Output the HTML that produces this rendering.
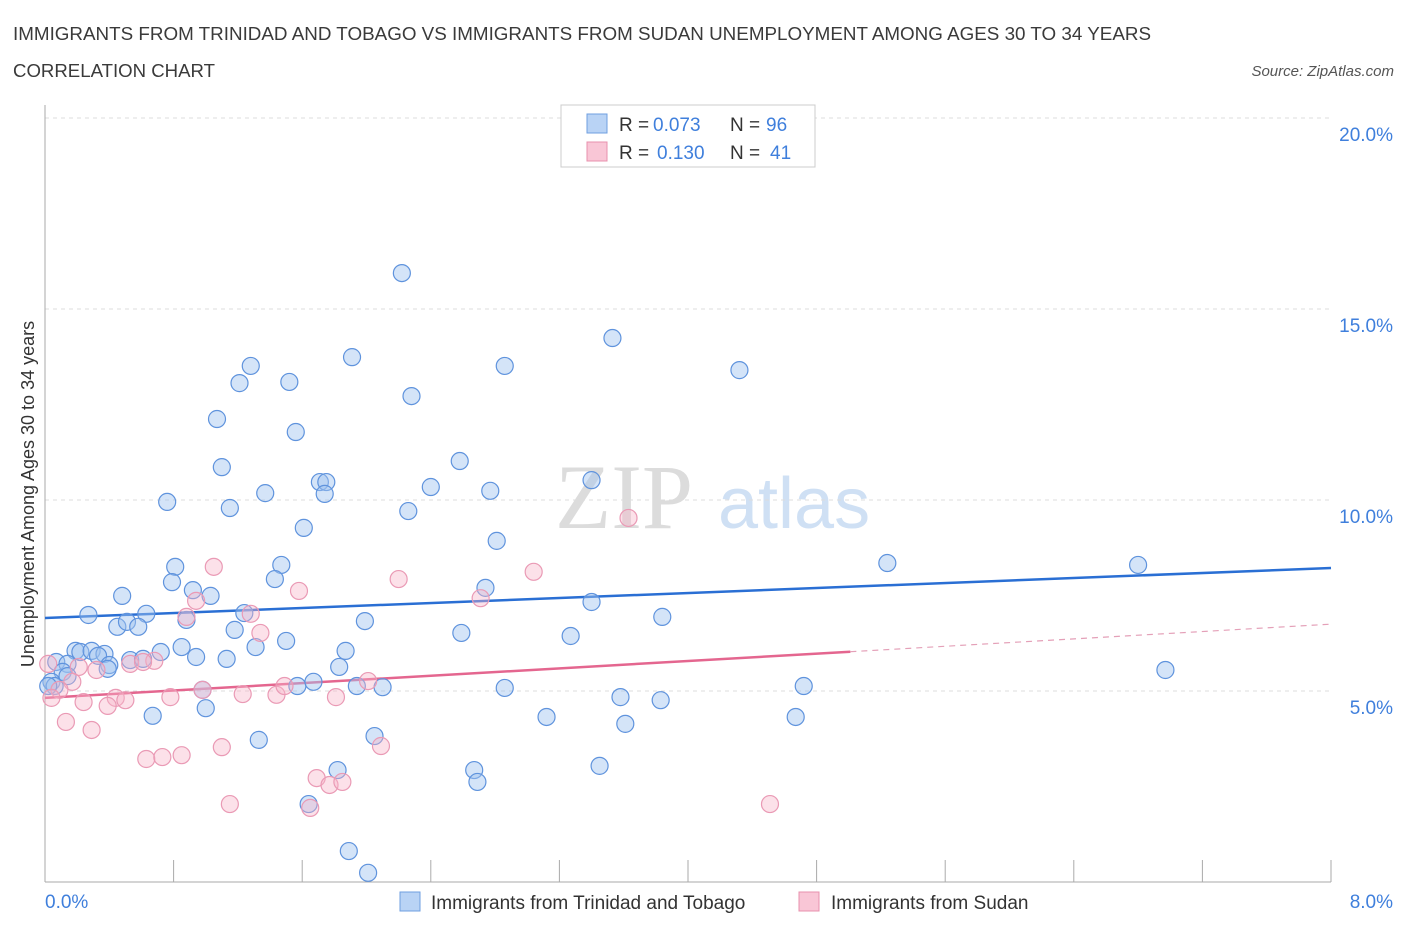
<!DOCTYPE html>
<html><head><meta charset="utf-8"><style>
body{margin:0;background:#fff;font-family:"Liberation Sans",sans-serif;}
svg text{font-family:"Liberation Sans",sans-serif;}
</style></head><body>
<svg id="chart" width="1406" height="930" viewBox="0 0 1406 930" xmlns="http://www.w3.org/2000/svg">
<text x="13" y="40" font-size="18.5" fill="#3a3a3a" textLength="1138" lengthAdjust="spacingAndGlyphs">IMMIGRANTS FROM TRINIDAD AND TOBAGO VS IMMIGRANTS FROM SUDAN UNEMPLOYMENT AMONG AGES 30 TO 34 YEARS</text>
<text x="13" y="77" font-size="18.5" fill="#3a3a3a" textLength="202" lengthAdjust="spacingAndGlyphs">CORRELATION CHART</text>
<text x="1394" y="76" font-size="15" fill="#555" text-anchor="end" font-style="italic">Source: ZipAtlas.com</text>
<g>
<text x="555" y="528" font-size="92" fill="#dcdcdc" font-family="Liberation Serif" style="font-family:'Liberation Serif',serif">ZIP</text>
<text x="718" y="528" font-size="72" fill="#cfe0f4">atlas</text>
</g>
<g id="grid"></g>
<g id="axes"></g>
<g id="trends"></g>
<g id="points"></g>
<g>
<rect x="561" y="105" width="254" height="62" fill="#fff" stroke="#ccc"/>
<rect x="587" y="114" width="20" height="19" fill="#b9d3f5" stroke="#6f9fe0"/>
<text x="619" y="131" font-size="19" fill="#333">R = </text><text x="653" y="131" font-size="19" fill="#3f7fdc">0.073</text>
<text x="730" y="131" font-size="19" fill="#333">N = </text><text x="766" y="131" font-size="19" fill="#3f7fdc">96</text>
<rect x="587" y="142" width="20" height="19" fill="#f9c6d6" stroke="#e890ad"/>
<text x="619" y="159" font-size="19" fill="#333">R = </text><text x="657" y="159" font-size="19" fill="#3f7fdc">0.130</text>
<text x="730" y="159" font-size="19" fill="#333">N = </text><text x="770" y="159" font-size="19" fill="#3f7fdc">41</text>
</g>
<g>
<rect x="400" y="892" width="20" height="19" fill="#b9d3f5" stroke="#6f9fe0"/>
<text x="431" y="909" font-size="19" fill="#333">Immigrants from Trinidad and Tobago</text>
<rect x="799" y="892" width="20" height="19" fill="#f9c6d6" stroke="#e890ad"/>
<text x="831" y="909" font-size="19" fill="#333">Immigrants from Sudan</text>
</g>
</svg>
<script>
const blueX=[2.22,3.53,1.91,1.28,2.86,4.32,1.21,1.52,2.28,1.07,1.56,2.58,1.10,1.71,1.75,2.40,2.77,1.37,1.74,0.76,1.15,2.26,3.40,1.61,2.81,0.81,1.47,5.24,6.80,0.79,1.43,2.74,0.48,0.92,1.03,3.40,0.27,0.63,1.24,0.88,3.84,0.45,0.51,0.58,1.99,1.18,2.59,3.27,1.50,0.85,1.31,1.87,0.19,0.22,0.29,0.37,0.33,0.72,0.53,0.61,0.94,1.13,0.07,0.14,0.40,0.39,1.83,6.97,0.11,0.14,0.04,0.06,1.57,1.94,2.10,1.67,2.86,4.72,0.98,3.58,3.83,1.00,0.67,3.12,3.61,4.67,1.33,2.05,1.82,2.67,3.45,2.69,1.64,1.89,2.01,0.02];
const blueY=[15.94,14.24,13.74,13.51,13.51,13.40,13.06,13.09,12.72,12.12,11.78,11.02,10.86,10.47,10.47,10.34,10.24,10.18,10.16,9.95,9.79,9.71,10.52,9.27,8.93,8.25,8.30,8.35,8.30,7.85,7.93,7.70,7.49,7.64,7.49,7.33,6.99,7.02,7.04,6.86,6.94,6.68,6.81,6.68,6.83,6.60,6.52,6.44,6.31,6.15,6.15,6.05,6.05,6.02,6.05,5.97,5.92,6.02,5.81,5.84,5.89,5.84,5.76,5.71,5.68,5.58,5.63,5.55,5.50,5.39,5.24,5.13,5.13,5.13,5.10,5.24,5.08,5.13,5.03,4.84,4.76,4.55,4.35,4.32,4.14,4.32,3.72,3.82,2.93,2.93,3.04,2.62,2.04,0.81,0.24,5.13];
const pinkX=[3.63,3.04,1.05,2.20,1.58,0.94,2.71,1.28,0.88,1.34,0.68,0.32,0.53,0.61,0.21,0.17,0.02,0.09,0.04,0.98,0.78,0.44,0.50,0.24,0.39,1.23,1.44,1.49,1.81,2.01,0.13,0.29,0.63,0.73,0.85,1.10,2.09,1.69,1.77,1.85,1.15,1.65,4.51];
const pinkY=[9.53,8.12,8.25,7.93,7.62,7.36,7.43,7.02,6.94,6.52,5.79,5.55,5.71,5.76,5.63,5.24,5.71,5.03,4.82,5.03,4.84,4.82,4.76,4.71,4.61,4.92,4.90,5.13,4.84,5.26,4.19,3.98,3.22,3.27,3.32,3.53,3.56,2.72,2.54,2.62,2.04,1.94,2.04];
const yTicks=[5,10,15,20];
const yTickLabels=["5.0%","10.0%","15.0%","20.0%"];
const xTicks=[0,0.8,1.6,2.4,3.2,4.0,4.8,5.6,6.4,7.2,8.0];
const blueTrend=[6.91,8.22];
const pinkTrend=[4.82,6.75];
const pinkSolidEnd=5.01;

const NS="http://www.w3.org/2000/svg";
const X=v=>45+v*160.75, Y=v=>882-v*38.2;
function mk(tag,attrs,parent){const e=document.createElementNS(NS,tag);for(const k in attrs)e.setAttribute(k,attrs[k]);parent.appendChild(e);return e;}
const grid=document.getElementById('grid'),axes=document.getElementById('axes'),tr=document.getElementById('trends'),pts=document.getElementById('points');
yTicks.forEach((t,i)=>{
 const l=mk('line',{x1:45,x2:1331,y1:Y(t),y2:Y(t),stroke:'#ddd','stroke-dasharray':'4,4'},grid);
 
 
 const tx=mk('text',{x:1393,y:Y(t)+23,'font-size':19,fill:'#3f7fdc','text-anchor':'end'},axes);
 tx.textContent=yTickLabels[i];
 
 
});
const ya=mk('line',{x1:45,x2:45,y1:105,y2:882,stroke:'#aaa'},axes);


const xa=mk('line',{x1:45,x2:1331,y1:882,y2:882,stroke:'#aaa'},axes);


xTicks.forEach(t=>{const l=mk('line',{x1:X(t),x2:X(t),y1:860,y2:882,stroke:'#aaa'},axes);
 
 });
const xl0=mk('text',{x:45,y:908,'font-size':19,fill:'#3f7fdc'},axes);xl0.textContent='0.0%';


const xl1=mk('text',{x:1393,y:908,'font-size':19,fill:'#3f7fdc','text-anchor':'end'},axes);xl1.textContent='8.0%';


const yt=mk('text',{x:34,y:494,'font-size':18,fill:'#333','text-anchor':'middle',transform:'rotate(-90 34 494)'},axes);yt.textContent='Unemployment Among Ages 30 to 34 years';


blueX.forEach((x,i)=>{const c=mk('circle',{cx:X(x),cy:Y(blueY[i]),r:8.5,fill:'rgba(160,195,240,0.45)',stroke:'#5f93dd','stroke-width':1.2},pts);
 
 });
pinkX.forEach((x,i)=>{const c=mk('circle',{cx:X(x),cy:Y(pinkY[i]),r:8.5,fill:'rgba(248,180,200,0.4)',stroke:'#ea9ab5','stroke-width':1.2},pts);
 
 });
const bt=mk('line',{x1:X(0),y1:Y(blueTrend[0]),x2:X(8),y2:Y(blueTrend[1]),stroke:'#2a6fd4','stroke-width':2.5},tr);


const pm=v=>pinkTrend[0]+(pinkTrend[1]-pinkTrend[0])*v/8;
const ps=mk('line',{x1:X(0),y1:Y(pinkTrend[0]),x2:X(pinkSolidEnd),y2:Y(pm(pinkSolidEnd)),stroke:'#e4668f','stroke-width':2.5},tr);


const pd=mk('line',{x1:X(pinkSolidEnd),y1:Y(pm(pinkSolidEnd)),x2:X(8),y2:Y(pinkTrend[1]),stroke:'#e4a0b8','stroke-width':1.2,'stroke-dasharray':'6,5'},tr);


</script>
</body></html>
